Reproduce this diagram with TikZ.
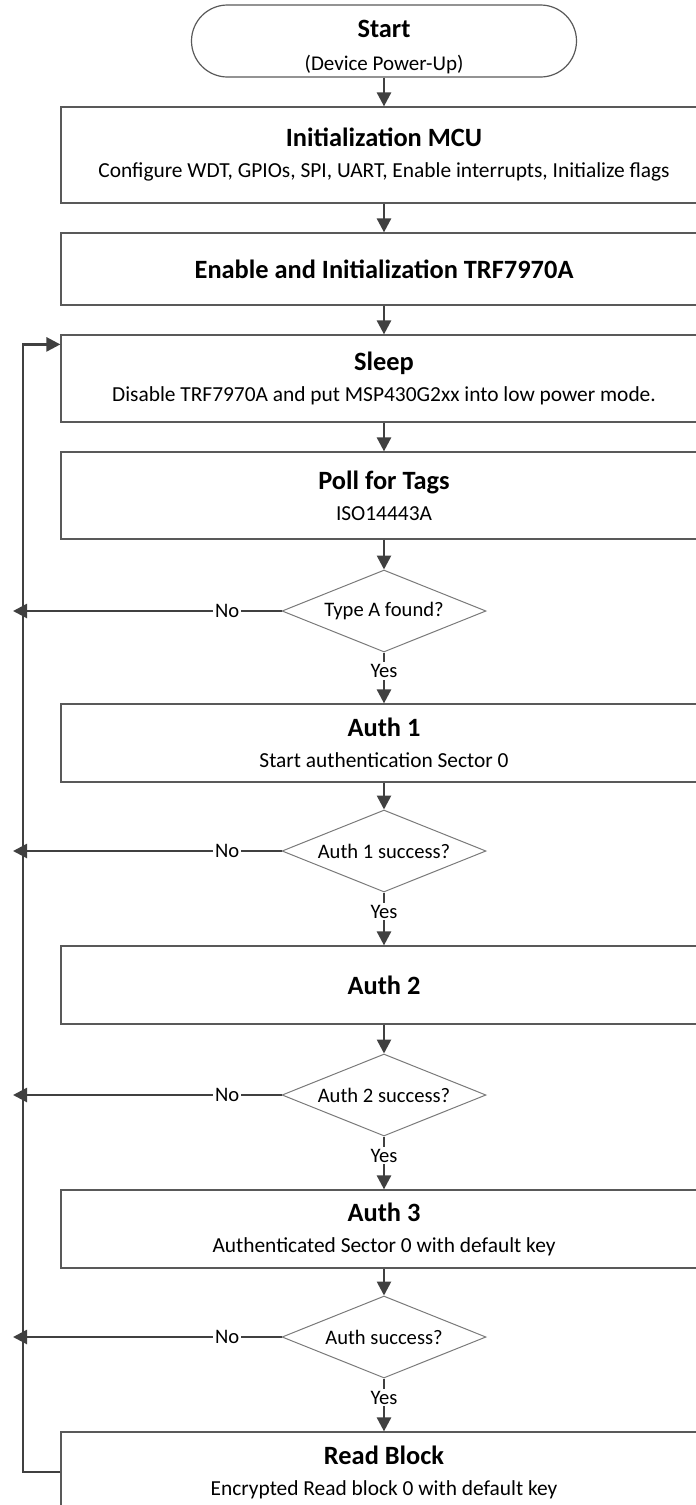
\documentclass[tikz,border=0pt]{standalone}
\usepackage{fontspec}
\setmainfont{Carlito}
\usetikzlibrary{positioning, shapes.geometric, shapes.misc, arrows.meta, calc}

\definecolor{flowline}{HTML}{404040}
\definecolor{boxline}{HTML}{595959}

\newcommand{\steptitle}[1]{{\fontsize{13.2pt}{15.5pt}\selectfont\bfseries #1}}

\begin{document}
\begin{tikzpicture}[x=0.5pt, y=-0.5pt,
  process/.style={
    rectangle, draw=boxline, line width=0.6pt,
    minimum width=323pt, minimum height=#1,
    align=center, inner sep=0pt,
    font=\fontsize{10.7pt}{15.5pt}\selectfont,
  },
  terminal/.style={
    rounded rectangle, draw=boxline, line width=0.6pt,
    minimum width=192.5pt, minimum height=36pt,
    align=center, inner sep=0pt,
    font=\fontsize{10.5pt}{16.5pt}\selectfont,
  },
  decision/.style={
    diamond, draw=boxline!80, line width=0.5pt, aspect=2.5,
    minimum width=102pt, minimum height=41pt, inner sep=0pt,
    font=\fontsize{10.3pt}{12pt}\selectfont,
  },
  answer/.style={fill=white, text=black, inner sep=1pt, font=\fontsize{10.3pt}{12pt}\selectfont},
  arrow/.style={-{Triangle[length=7pt, width=7pt]}, line width=1.3pt, flowline},
]
\clip (0,0) rectangle (696,1505);

% Main column of steps, all centred on x = 384.
\node[terminal]       (start)   at (384,41)     {\steptitle{\rule{0pt}{15pt}Start}\\(Device Power-Up)};
\node[process=48pt]   (mcu)     at (384,155)    {\steptitle{Initialization MCU}\\
  Configure WDT, GPIOs, SPI, UART, Enable interrupts, Initialize flags};
\node[process=36pt]   (trf)     at (384,269)    {\steptitle{Enable and Initialization TRF7970A}};
\node[process=43.5pt] (sleep)   at (384,378.5)  {\steptitle{Sleep}\\
  Disable TRF7970A and put MSP430G2xx into low power mode.};
\node[process=43.5pt] (poll)    at (384,495.5)  {\steptitle{Poll for Tags}\\ISO14443A};
\node[decision]       (typea)   at (384,611)    {Type A found?};
\node[process=39pt]   (auth1)   at (384,743)    {\steptitle{Auth 1}\\Start authentication Sector 0};
\node[decision]       (auth1ok) at (384,851)    {Auth 1 success?};
\node[process=39pt]   (auth2)   at (384,985)    {\steptitle{Auth 2}};
\node[decision]       (auth2ok) at (384,1095)   {Auth 2 success?};
\node[process=39pt]   (auth3)   at (384,1229)   {\steptitle{Auth 3}\\Authenticated Sector 0 with default key};
\node[decision]       (authok)  at (384,1337)   {Auth success?};
\node[process=40pt]   (read)    at (384,1472)   {\steptitle{Read Block}\\Encrypted Read block 0 with default key};

% Return line on the left, entering Sleep near its top.
\coordinate (loop) at (23,0);
\coordinate (wake) at ([yshift=-5pt]sleep.north west);

% Straight arrows down the column.
\foreach \a/\b in {start/mcu, mcu/trf, trf/sleep, sleep/poll, poll/typea,
                   auth1/auth1ok, auth2/auth2ok, auth3/authok} {
  \draw[arrow] (\a.south) -- (\b.north);
}

% Yes branches.
\foreach \a/\b in {typea/auth1, auth1ok/auth2, auth2ok/auth3, authok/read} {
  \draw[arrow] (\a.south) -- node[answer, pos=0.36] {Yes} (\b.north);
}

% No branches into the return line.
\foreach \d in {typea, auth1ok, auth2ok, authok} {
  \draw[arrow, shorten >=-5pt] (\d.west) -- node[answer, pos=0.21] {No} (\d.west -| loop);
}

% Back to sleep after reading.
\draw[arrow] (read.west) -- (read.west -| loop) -- (wake -| loop) -- (wake);

\end{tikzpicture}
\end{document}
